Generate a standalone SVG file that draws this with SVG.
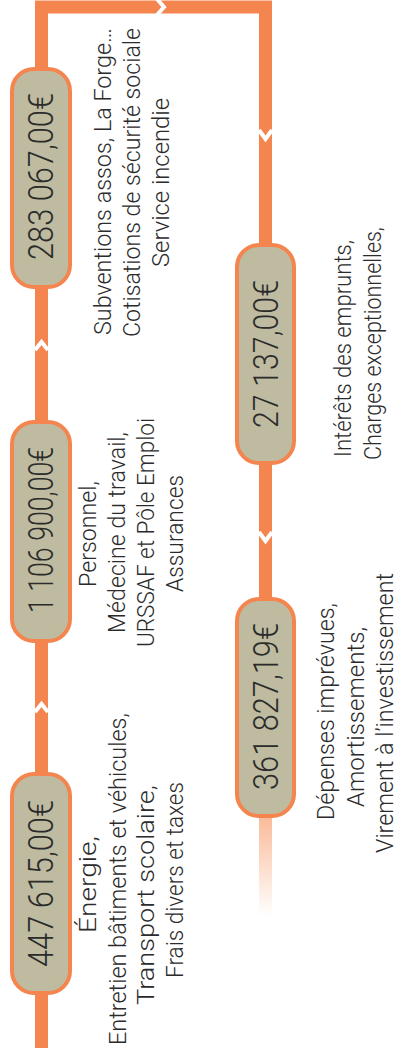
<svg xmlns="http://www.w3.org/2000/svg" width="398" height="1055" viewBox="0 0 398 1055">
<style>
.ln{fill:none;stroke:#F4854F;stroke-width:13;stroke-linejoin:miter}
.pill{fill:#BEBBA0;stroke:#F4854F;stroke-width:4}
.amt{font-family:Roboto,"Liberation Sans",sans-serif;font-weight:300;font-size:35px;fill:#2b2b2b}
.desc{font-family:Roboto,"Liberation Sans",sans-serif;font-weight:300;font-size:23px;fill:#2b2b2b}
.chev{fill:none;stroke:#fff;stroke-width:4;stroke-linejoin:miter}
</style>
<defs>
<linearGradient id="fade" x1="0" y1="818" x2="0" y2="916" gradientUnits="userSpaceOnUse">
<stop offset="0" stop-color="#F9BC9A"/>
<stop offset="1" stop-color="#F9BC9A" stop-opacity="0"/>
</linearGradient>
</defs>
<g id="connectors">
<path class="ln" d="M41.5,1048 V7 H265.5 V600"/>
<rect x="259" y="818" width="13" height="98" fill="url(#fade)"/>
<polyline class="chev" points="157,-1 164,7 157,15"/>
<polyline class="chev" points="35,350 41.5,342 48,350"/>
<polyline class="chev" points="35,712 41.5,704 48,712"/>
<polyline class="chev" points="259,130 265.5,139 272,130"/>
<polyline class="chev" points="259,532 265.5,541 272,532"/>
</g>
<g id="node1">
<rect class="pill" x="12" y="69" width="58" height="218" rx="22"/>
<text class="amt" transform="translate(53,260) rotate(-90)" textLength="167" lengthAdjust="spacingAndGlyphs">283 067,00€</text>
<text class="desc" transform="translate(111,335) rotate(-90)" textLength="307" lengthAdjust="spacingAndGlyphs">Subventions assos, La Forge…</text>
<text class="desc" transform="translate(140,337) rotate(-90)" textLength="309" lengthAdjust="spacingAndGlyphs">Cotisations de sécurité sociale</text>
<text class="desc" transform="translate(169,267) rotate(-90)" textLength="169" lengthAdjust="spacingAndGlyphs">Service incendie</text>
</g>
<g id="node2">
<rect class="pill" x="12" y="422" width="58" height="219" rx="22"/>
<text class="amt" transform="translate(53,613) rotate(-90)" textLength="166" lengthAdjust="spacingAndGlyphs">1 106 900,00€</text>
<text class="desc" transform="translate(96,587) rotate(-90)" textLength="106" lengthAdjust="spacingAndGlyphs">Personnel,</text>
<text class="desc" transform="translate(125,633) rotate(-90)" textLength="201" lengthAdjust="spacingAndGlyphs">Médecine du travail,</text>
<text class="desc" transform="translate(154,647) rotate(-90)" textLength="229" lengthAdjust="spacingAndGlyphs">URSSAF et Pôle Emploi</text>
<text class="desc" transform="translate(183,592) rotate(-90)" textLength="117" lengthAdjust="spacingAndGlyphs">Assurances</text>
</g>
<g id="node3">
<rect class="pill" x="12" y="774" width="58" height="219" rx="22"/>
<text class="amt" transform="translate(53,967) rotate(-90)" textLength="167" lengthAdjust="spacingAndGlyphs">447 615,00€</text>
<text class="desc" transform="translate(96,933) rotate(-90)" textLength="97" lengthAdjust="spacingAndGlyphs">Énergie,</text>
<text class="desc" transform="translate(126,1045) rotate(-90)" textLength="332" lengthAdjust="spacingAndGlyphs">Entretien bâtiments et véhicules,</text>
<text class="desc" transform="translate(154,1005) rotate(-90)" textLength="220" lengthAdjust="spacingAndGlyphs">Transport scolaire,</text>
<text class="desc" transform="translate(183,978) rotate(-90)" textLength="196" lengthAdjust="spacingAndGlyphs">Frais divers et taxes</text>
</g>
<g id="node4">
<rect class="pill" x="237" y="245" width="57" height="218" rx="22"/>
<text class="amt" transform="translate(278,428) rotate(-90)" textLength="148" lengthAdjust="spacingAndGlyphs">27 137,00€</text>
<text class="desc" transform="translate(351,457) rotate(-90)" textLength="217" lengthAdjust="spacingAndGlyphs">Intérêts des emprunts,</text>
<text class="desc" transform="translate(381,460) rotate(-90)" textLength="233" lengthAdjust="spacingAndGlyphs">Charges exceptionnelles,</text>
</g>
<g id="node5">
<rect class="pill" x="237" y="599" width="57" height="217" rx="22"/>
<text class="amt" transform="translate(278,790) rotate(-90)" textLength="167" lengthAdjust="spacingAndGlyphs">361 827,19€</text>
<text class="desc" transform="translate(334,820) rotate(-90)" textLength="217" lengthAdjust="spacingAndGlyphs">Dépenses imprévues,</text>
<text class="desc" transform="translate(364,807) rotate(-90)" textLength="180" lengthAdjust="spacingAndGlyphs">Amortissements,</text>
<text class="desc" transform="translate(393,853) rotate(-90)" textLength="280" lengthAdjust="spacingAndGlyphs">Virement à l’investissement</text>
</g>
</svg>
